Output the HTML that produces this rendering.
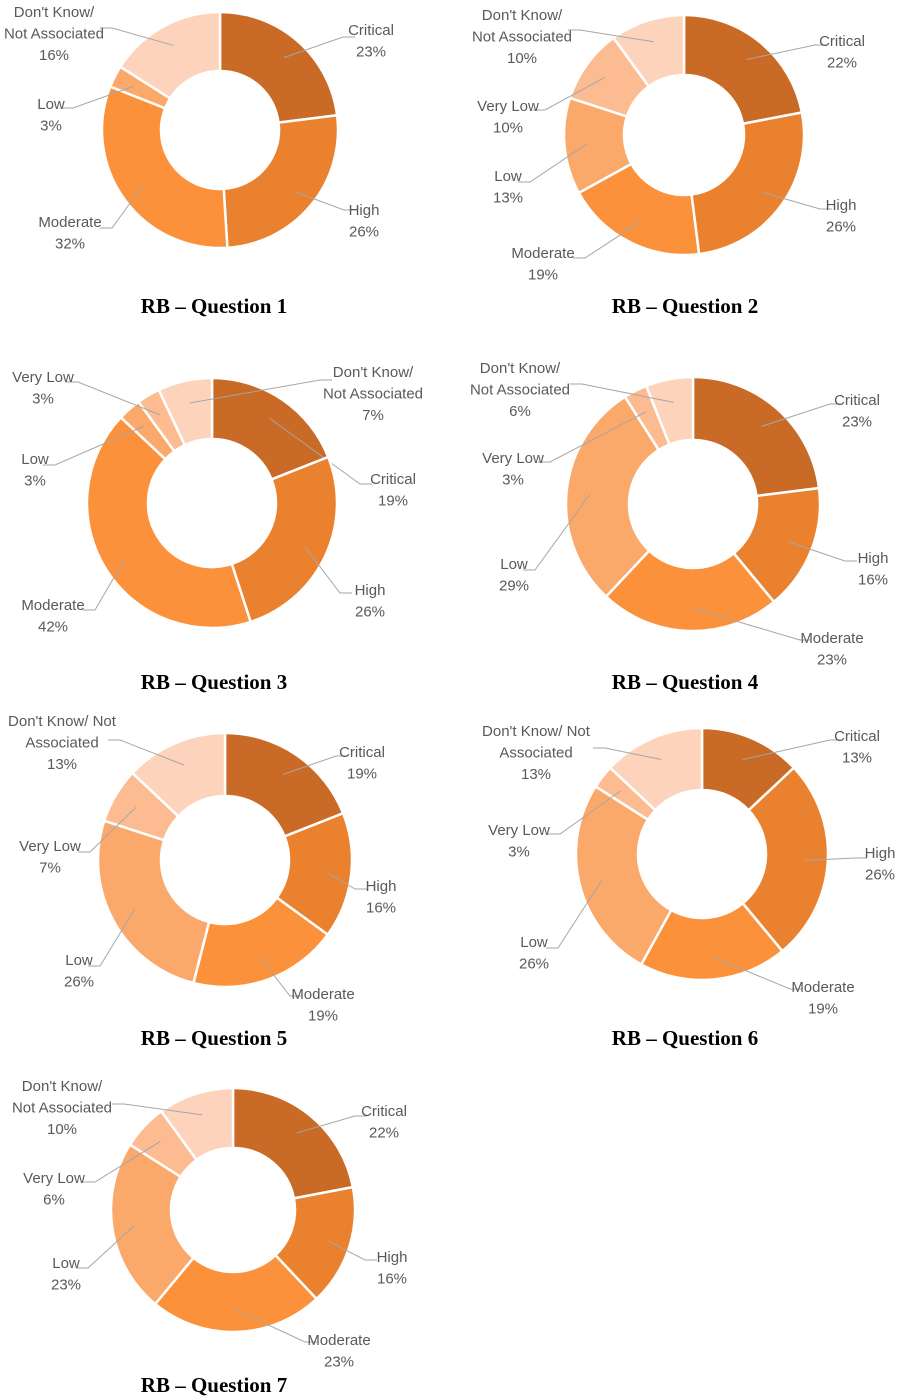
<!DOCTYPE html>
<html><head><meta charset="utf-8">
<style>
html,body{margin:0;padding:0;background:#fff;}
svg{display:block;}
.lbl{font-family:"Liberation Sans",sans-serif;font-size:15px;fill:#595959;text-anchor:middle;}
.ttl{font-family:"Liberation Serif",serif;font-size:21px;font-weight:bold;fill:#000;text-anchor:middle;}
</style></head>
<body>
<svg id="chart" width="899" height="1398" viewBox="0 0 899 1398" xmlns="http://www.w3.org/2000/svg">
<text class="ttl" x="214" y="313">RB – Question 1</text>
<text class="ttl" x="685" y="313">RB – Question 2</text>
<text class="ttl" x="214" y="689">RB – Question 3</text>
<text class="ttl" x="685" y="689">RB – Question 4</text>
<text class="ttl" x="214" y="1045">RB – Question 5</text>
<text class="ttl" x="685" y="1045">RB – Question 6</text>
<text class="ttl" x="214" y="1392">RB – Question 7</text>
</svg>
<script>
const categories1 = ["Critical","High","Moderate","Low","Don't Know"];
const values1 = [23,26,32,3,16];
const categories2 = ["Critical","High","Moderate","Low","Very Low","Don't Know"];
const values2 = [22,26,19,13,10,10];
const categories3 = ["Critical","High","Moderate","Low","Very Low","Don't Know"];
const values3 = [19,26,42,3,3,7];
const categories4 = ["Critical","High","Moderate","Low","Very Low","Don't Know"];
const values4 = [23,16,23,29,3,6];
const categories5 = ["Critical","High","Moderate","Low","Very Low","Don't Know"];
const values5 = [19,16,19,26,7,13];
const categories6 = ["Critical","High","Moderate","Low","Very Low","Don't Know"];
const values6 = [13,26,19,26,3,13];
const categories7 = ["Critical","High","Moderate","Low","Very Low","Don't Know"];
const values7 = [22,16,23,23,6,10];

const colorMap = {"Critical":"#C96A27","High":"#E9812F","Moderate":"#FB913A","Low":"#FBA86B","Very Low":"#FCBB90","Don't Know":"#FDD3BC"};
const labelNames = {"Critical":["Critical"],"High":["High"],"Moderate":["Moderate"],"Low":["Low"],"Very Low":["Very Low"],"Don't Know":["Don't Know/","Not Associated"]};
const labelNamesAlt = {"Don't Know":["Don't Know/ Not","Associated"]};

const charts = [
 {cats:categories1,vals:values1,cx:220,cy:130,r:118,ri:59,alt:false,
  lab:{"Critical":[371,30,343,37],"High":[364,210,344,210],"Moderate":[70,222,112,228],"Low":[51,104,73,108],"Don't Know":[54,12,112,28]}},
 {cats:categories2,vals:values2,cx:684,cy:135,r:120,ri:60,alt:false,
  lab:{"Critical":[842,41,815,45],"High":[841,205,820,209],"Moderate":[543,253,585,258],"Low":[508,176,530,182],"Very Low":[508,106,545,110],"Don't Know":[522,15,580,30]}},
 {cats:categories3,vals:values3,cx:212,cy:503,r:125,ri:64,alt:false,
  lab:{"Critical":[393,479,360,484],"High":[370,590,340,593],"Moderate":[53,605,95,610],"Low":[35,459,55,465],"Very Low":[43,377,78,382],"Don't Know":[373,372,320,380]}},
 {cats:categories4,vals:values4,cx:693,cy:504,r:127,ri:64,alt:false,
  lab:{"Critical":[857,400,830,404],"High":[873,558,845,561],"Moderate":[832,638,800,640],"Low":[514,564,535,570],"Very Low":[513,458,550,462],"Don't Know":[520,368,582,384]}},
 {cats:categories5,vals:values5,cx:225,cy:860,r:127,ri:64,alt:true,
  lab:{"Critical":[362,752,336,756],"High":[381,886,355,889],"Moderate":[323,994,290,996],"Low":[79,960,100,966],"Very Low":[50,846,90,852],"Don't Know":[62,721,120,740]}},
 {cats:categories6,vals:values6,cx:702,cy:854,r:126,ri:64,alt:true,
  lab:{"Critical":[857,736,830,740],"High":[880,853,855,858],"Moderate":[823,987,790,989],"Low":[534,942,558,948],"Very Low":[519,830,560,834],"Don't Know":[536,731,605,748]}},
 {cats:categories7,vals:values7,cx:233,cy:1210,r:122,ri:62,alt:false,
  lab:{"Critical":[384,1111,355,1116],"High":[392,1257,365,1260],"Moderate":[339,1340,305,1342],"Low":[66,1263,88,1268],"Very Low":[54,1178,95,1182],"Don't Know":[62,1086,124,1104]}}
];

const NS = "http://www.w3.org/2000/svg";
const svg = document.getElementById('chart');
function pt(cx,cy,r,a){return [cx+r*Math.sin(a), cy-r*Math.cos(a)];}
function slugify(s){return s.toLowerCase().replace(/[^a-z]+/g,'-').replace(/-$/,'');}

charts.forEach((c,ci)=>{
  const g = document.createElementNS(NS,'g');
  
  
  svg.appendChild(g);
  const total = c.vals.reduce((a,b)=>a+b,0);
  let a0 = 0;
  c.cats.forEach((cat,i)=>{
    const a1 = a0 + c.vals[i]/total*2*Math.PI;
    const large = (a1-a0)>Math.PI?1:0;
    const p1=pt(c.cx,c.cy,c.r,a0), p2=pt(c.cx,c.cy,c.r,a1), p3=pt(c.cx,c.cy,c.ri,a1), p4=pt(c.cx,c.cy,c.ri,a0);
    const path = document.createElementNS(NS,'path');
    path.setAttribute('d',`M${p1[0]},${p1[1]} A${c.r},${c.r} 0 ${large} 1 ${p2[0]},${p2[1]} L${p3[0]},${p3[1]} A${c.ri},${c.ri} 0 ${large} 0 ${p4[0]},${p4[1]} Z`);
    path.setAttribute('fill',colorMap[cat]);
    path.setAttribute('stroke','#fff');
    path.setAttribute('stroke-width','2.5');
    
    
    g.appendChild(path);
    const mid=(a0+a1)/2;
    const L=c.lab[cat];
    if(L){
      const s=pt(c.cx,c.cy,(c.r+c.ri)/2+8,mid);
      const line=document.createElementNS(NS,'polyline');
      const hx = L[2] < c.cx ? L[2]-12 : L[2]+12;
      line.setAttribute('points',`${s[0]},${s[1]} ${L[2]},${L[3]} ${hx},${L[3]}`);
      line.setAttribute('fill','none');
      line.setAttribute('stroke','#a6a6a6');
      line.setAttribute('stroke-width','1');
      
      
      g.appendChild(line);
      const names = (c.alt && labelNamesAlt[cat]) ? labelNamesAlt[cat] : labelNames[cat];
      const t=document.createElementNS(NS,'text');
      t.setAttribute('class','lbl');
      
      
      const lines = names.concat([c.vals[i]+'%']);
      lines.forEach((ln,k)=>{
        const ts=document.createElementNS(NS,'tspan');
        ts.setAttribute('x',L[0]);
        ts.setAttribute('y',L[1]+5+k*21.5);
        ts.textContent=ln;
        t.appendChild(ts);
      });
      g.appendChild(t);
    }
    a0=a1;
  });
});
</script>
</body></html>
